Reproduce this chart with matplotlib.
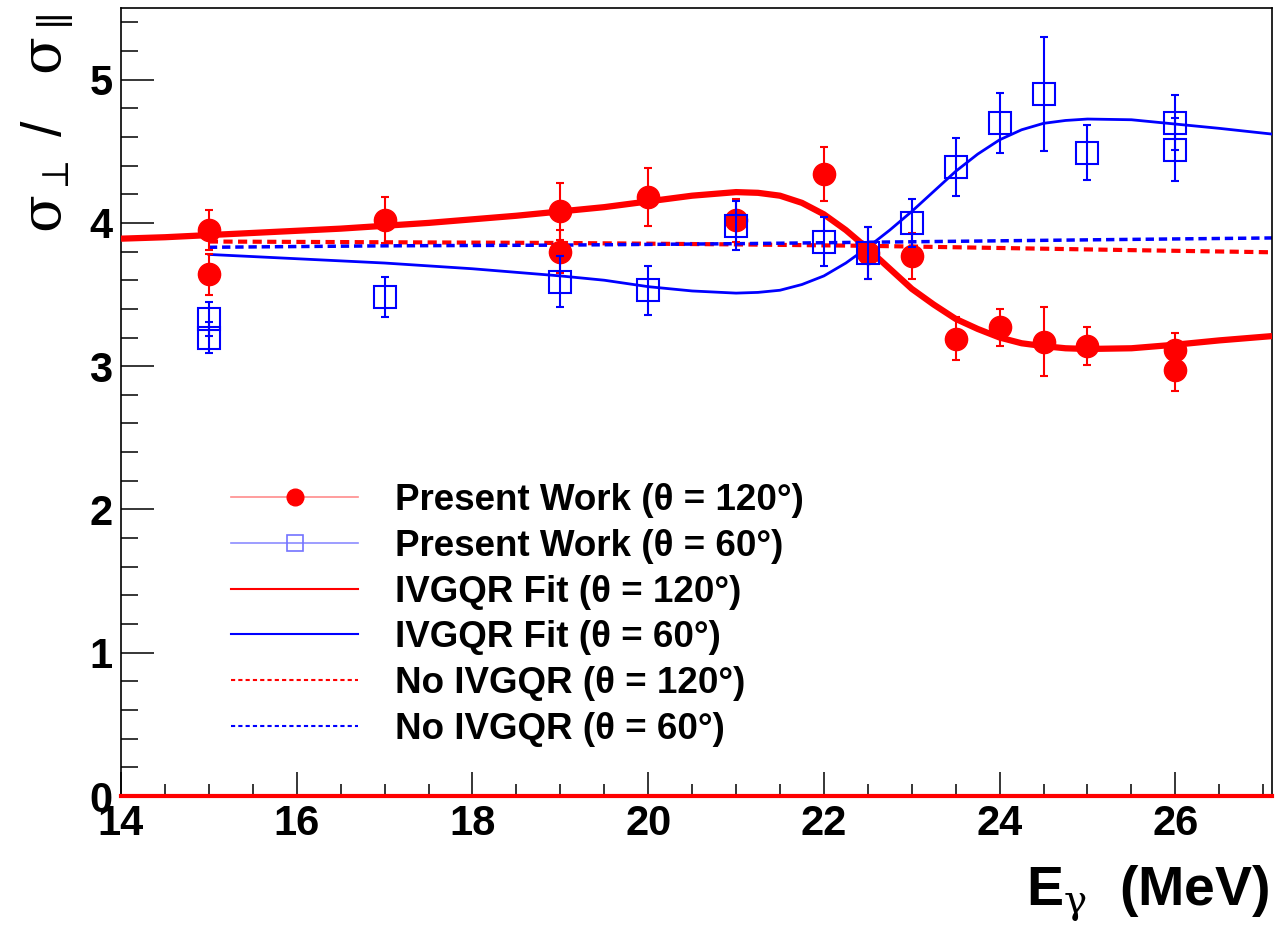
import numpy as np
import matplotlib
matplotlib.use("Agg")
import matplotlib.pyplot as plt
from matplotlib.lines import Line2D
from matplotlib.ticker import MultipleLocator

plt.rcParams['font.family'] = ['Liberation Sans', 'DejaVu Sans']
plt.rcParams['mathtext.fontset'] = 'custom'
plt.rcParams['mathtext.rm'] = 'DejaVu Serif'
plt.rcParams['mathtext.it'] = 'DejaVu Serif'

# measured ratios, theta = 120 deg
e_120 = [15, 15, 17, 19, 19, 20, 21, 22, 22.5, 23, 23.5, 24, 24.5, 25, 26, 26]
r_120 = [3.95, 3.64, 4.02, 4.08, 3.80, 4.18, 4.02, 4.34, 3.79, 3.77, 3.19, 3.27, 3.17, 3.14, 3.11, 2.97]
err_120 = [0.14, 0.14, 0.16, 0.20, 0.15, 0.20, 0.15, 0.19, 0.18, 0.16, 0.15, 0.13, 0.24, 0.13, 0.12, 0.14]

# measured ratios, theta = 60 deg
e_60 = [15, 15, 17, 19, 20, 21, 22, 22.5, 23, 23.5, 24, 24.5, 25, 26, 26]
r_60 = [3.33, 3.20, 3.48, 3.59, 3.53, 3.98, 3.87, 3.79, 4.00, 4.39, 4.70, 4.90, 4.49, 4.70, 4.51]
err_60 = [0.12, 0.11, 0.14, 0.18, 0.17, 0.17, 0.17, 0.18, 0.17, 0.20, 0.21, 0.40, 0.19, 0.19, 0.22]

# IVGQR fit curves
fit_e_120 = [14, 14.5, 15, 15.5, 16, 16.5, 17, 17.5, 18, 18.5, 19, 19.5, 20, 20.5, 21, 21.25,
             21.5, 21.75, 22, 22.25, 22.5, 22.75, 23, 23.25, 23.5, 23.75, 24, 24.25, 24.5,
             24.75, 25, 25.5, 26, 26.5, 27.1]
fit_r_120 = [3.89, 3.90, 3.915, 3.93, 3.945, 3.96, 3.98, 4.00, 4.025, 4.05, 4.08, 4.11, 4.15,
             4.19, 4.215, 4.21, 4.19, 4.14, 4.06, 3.95, 3.82, 3.68, 3.54, 3.43, 3.33, 3.26,
             3.20, 3.16, 3.14, 3.125, 3.12, 3.125, 3.15, 3.18, 3.21]
fit_e_60 = [15, 15.5, 16, 16.5, 17, 17.5, 18, 18.5, 19, 19.5, 20, 20.5, 21, 21.25, 21.5, 21.75,
            22, 22.25, 22.5, 22.75, 23, 23.25, 23.5, 23.75, 24, 24.25, 24.5, 24.75, 25, 25.5,
            26, 26.5, 27.1]
fit_r_60 = [3.78, 3.765, 3.75, 3.735, 3.72, 3.70, 3.68, 3.655, 3.63, 3.60, 3.555, 3.525, 3.51,
            3.515, 3.53, 3.57, 3.63, 3.72, 3.83, 3.95, 4.08, 4.22, 4.36, 4.48, 4.58, 4.65,
            4.695, 4.715, 4.725, 4.72, 4.69, 4.66, 4.62]

# calculations without IVGQR
no_e = [15, 17, 19, 21, 22.5, 24, 25.5, 27.1]
no_r_120 = [3.87, 3.865, 3.86, 3.85, 3.84, 3.825, 3.81, 3.795]
no_r_60 = [3.83, 3.84, 3.845, 3.855, 3.865, 3.875, 3.885, 3.895]

fig = plt.figure(figsize=(12.78, 9.27), dpi=100)
ax = fig.add_axes([121 / 1278, 131 / 927, 1151 / 1278, 788 / 927])

ax.plot(no_e, no_r_120, color='red', lw=3, dashes=(2.2, 1.3), zorder=2)
ax.plot(no_e, no_r_60, color='blue', lw=2.5, dashes=(2.4, 1.4), zorder=2)
ax.plot(fit_e_120, fit_r_120, color='red', lw=4.5, zorder=3, solid_capstyle='butt')
ax.plot(fit_e_60, fit_r_60, color='blue', lw=2, zorder=3)

ax.errorbar(e_120, r_120, yerr=err_120, fmt='o', color='red', ms=16, elinewidth=1.5,
            capsize=3, capthick=1.5, zorder=4)
ax.errorbar(e_60, r_60, yerr=err_60, fmt='s', color='blue', mfc='none', mec='blue',
            ms=16, mew=1.5, elinewidth=1.5, capsize=3, capthick=1.5, zorder=5)

ax.axhline(0, color='red', lw=3, zorder=6, clip_on=False)

ax.set_xlim(14, 27.1)
ax.set_ylim(0, 5.5)
ax.xaxis.set_major_locator(MultipleLocator(2))
ax.xaxis.set_minor_locator(MultipleLocator(0.5))
ax.yaxis.set_major_locator(MultipleLocator(1))
ax.yaxis.set_minor_locator(MultipleLocator(0.2))
ax.tick_params(axis='x', which='major', direction='in', length=17, width=1.1, pad=6,
               labelsize=30)
ax.tick_params(axis='x', which='minor', direction='in', length=8.5, width=1.1)
ax.tick_params(axis='y', which='major', direction='in', length=24, width=1.1, pad=6,
               labelsize=30)
ax.tick_params(axis='y', which='minor', direction='in', length=12, width=1.1)
for lbl in ax.get_xticklabels() + ax.get_yticklabels():
    lbl.set_fontweight('bold')
for sp in ax.spines.values():
    sp.set_linewidth(1.2)

handles = [
    Line2D([], [], color=(1, 0.55, 0.55), lw=1.2, marker='o', mfc='red', mec='red', ms=12),
    Line2D([], [], color=(0.55, 0.55, 1), lw=1.2, marker='s', mfc='none',
           mec=(0.45, 0.45, 1), ms=12, mew=1.2),
    Line2D([], [], color='red', lw=1.5),
    Line2D([], [], color='blue', lw=1.5),
    Line2D([], [], color='red', lw=1.5, dashes=(2, 1.5)),
    Line2D([], [], color='blue', lw=1.5, dashes=(2, 1.5)),
]
labels = ['Present Work (θ = 120°)', 'Present Work (θ = 60°)', 'IVGQR Fit (θ = 120°)',
          'IVGQR Fit (θ = 60°)', 'No IVGQR (θ = 120°)', 'No IVGQR (θ = 60°)']
ax.legend(handles, labels, loc='upper left', bbox_to_anchor=(0.096, 0.397), frameon=False,
          prop={'size': 26.5, 'weight': 'bold'}, handlelength=3.45, handletextpad=1.0,
          labelspacing=0.29, borderpad=0, borderaxespad=0)

fig.text(1269 / 1278, 22 / 927, r'E$_{\gamma}$  (MeV)', ha='right', va='baseline',
         fontsize=40, fontweight='bold')
fig.text(48 / 1278, 1 - 14 / 927, r'$\sigma_{\perp}$ /   $\sigma_{\parallel}$', rotation=90,
         ha='center', va='top', fontsize=40)

fig.savefig('out.png', dpi=100)
